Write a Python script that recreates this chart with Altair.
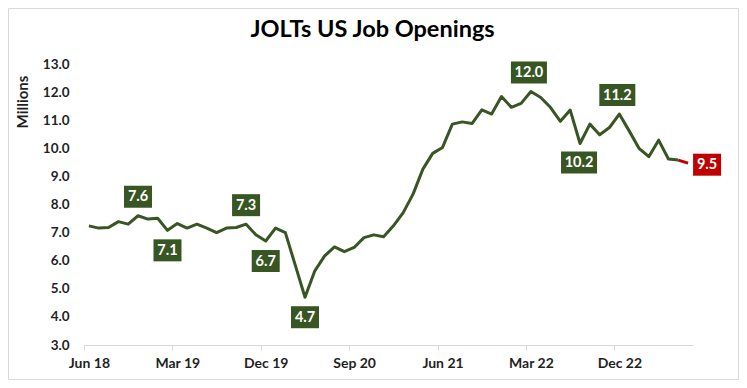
import altair as alt
import pandas as pd

# ---- data -------------------------------------------------------------
months = list(pd.date_range("2018-06-01", periods=62, freq="MS").strftime("%b %y"))
openings = [
    7.24, 7.16, 7.18, 7.39, 7.30, 7.60, 7.48, 7.51, 7.08, 7.32,
    7.16, 7.30, 7.16, 7.00, 7.16, 7.18, 7.30, 6.92, 6.70, 7.16,
    7.00, 5.85, 4.70, 5.64, 6.17, 6.49, 6.32, 6.47, 6.82, 6.92,
    6.85, 7.24, 7.71, 8.37, 9.26, 9.82, 10.03, 10.86, 10.94, 10.88,
    11.37, 11.22, 11.84, 11.46, 11.60, 12.02, 11.81, 11.45, 10.96, 11.36,
    10.17, 10.86, 10.48, 10.74, 11.22, 10.62, 10.00, 9.70, 10.29, 9.62,
    9.58, 9.47,
]
tick_months = [0, 9, 18, 27, 36, 45, 54]
tick_labels = ["Jun 18", "Mar 19", "Dec 19", "Sep 20", "Jun 21", "Mar 22", "Dec 22"]
y_ticks = [3, 4, 5, 6, 7, 8, 9, 10, 11, 12, 13]

# annotated months, grouped by where the label box sits
above_short = [5, 16]        # 7.6, 7.3
above_long = [45, 54]        # 12.0, 11.2
below_short = [8, 18, 22]    # 7.1, 6.7, 4.7
below_long = [50]            # 10.2
last_point = [61]            # 9.5 (red)

df = pd.DataFrame({"i": list(range(len(openings))), "month": months, "v": openings})

GREEN = "#375623"
RED = "#C00000"
TXT = "#1f1f1f"
FONT = "Lato"

W, H = 609, 281
PAD = {"left": 76, "top": 56, "right": 46, "bottom": 35}
step = W / len(openings)

label_expr = "[" + ",".join("'%s'" % s for s in tick_labels) + "][round(datum.value/9)]"

x_enc = alt.X(
    "i:Q",
    title=None,
    scale=alt.Scale(domain=[-0.5, len(openings) - 0.5], nice=False, zero=False),
    axis=alt.Axis(
        values=tick_months,
        labelExpr=label_expr,
        tickOffset=-step / 2,
        labelOffset=step / 2,
        labelFlush=False,
        labelOverlap=False,
        grid=False,
        domainColor="#d9d9d9",
        tickColor="#d9d9d9",
        tickSize=5,
        labelPadding=6,
        labelFont=FONT,
        labelFontWeight="bold",
        labelFontSize=14,
        labelColor=TXT,
    ),
)
y_enc = alt.Y(
    "v:Q",
    title=None,
    scale=alt.Scale(domain=[3, 13], nice=False, zero=False),
    axis=alt.Axis(
        values=y_ticks,
        format=".1f",
        grid=False,
        domain=False,
        ticks=False,
        labelPadding=15,
        labelFont=FONT,
        labelFontWeight="bold",
        labelFontSize=13.5,
        labelColor=TXT,
    ),
)

base = alt.Chart(df)

green_line = base.transform_filter(alt.datum.i <= 60).mark_line(
    color=GREEN, strokeWidth=3, strokeJoin="round"
).encode(x=x_enc, y=y_enc)
red_line = base.transform_filter(alt.datum.i >= 60).mark_line(
    color=RED, strokeWidth=3, strokeJoin="round"
).encode(x=x_enc, y=y_enc)


def label(ids, dx, dy, w, h, color):
    src = base.transform_filter(alt.FieldOneOfPredicate(field="i", oneOf=ids))
    box = src.mark_rect(
        color=color,
        xOffset=dx - w / 2, x2Offset=dx + w / 2,
        yOffset=dy - h / 2, y2Offset=dy + h / 2,
    ).encode(x=x_enc, x2="i:Q", y=y_enc, y2="v:Q")
    txt = src.mark_text(
        color="white", font=FONT, fontWeight="bold", fontSize=14.5,
        dx=dx, dy=dy + 0.5, align="center", baseline="middle",
    ).encode(x=x_enc, y=y_enc, text=alt.Text("v:Q", format=".1f"))
    return [box, txt]


labels = (
    label(above_short, 0, -19, 28, 22, GREEN)
    + label(above_long, -2, -19, 36, 22, GREEN)
    + label(below_short, 0, 20, 28, 22, GREEN)
    + label(below_long, -1, 19, 36, 22, GREEN)
    + label(last_point, 19, 1.5, 28, 22, RED)
)

one = pd.DataFrame({"t": ["JOLTs US Job Openings"]})
title = alt.Chart(one).mark_text(
    font=FONT, fontWeight="bold", fontSize=23.5, color="black",
    align="center", baseline="alphabetic",
).encode(x=alt.value(288.5), y=alt.value(-27.3), text="t:N")

ytitle = alt.Chart(pd.DataFrame({"t": ["Millions"]})).mark_text(
    font=FONT, fontWeight="bold", fontSize=15, color=TXT,
    align="center", baseline="middle", angle=270,
).encode(x=alt.value(-61), y=alt.value(38), text="t:N")

border = alt.Chart(one).mark_rect(
    fillOpacity=0, stroke="#d9d9d9", strokeWidth=1
).encode(
    x=alt.value(-PAD["left"] + 0.5),
    x2=alt.value(W + PAD["right"] - 0.5),
    y=alt.value(-PAD["top"] + 0.5),
    y2=alt.value(H + PAD["bottom"] - 0.5),
)

chart = alt.layer(
    border, green_line, red_line, *labels, title, ytitle
).properties(
    width=W, height=H, padding=PAD,
    autosize=alt.AutoSizeParams(type="none"),
    background="white",
).configure_view(stroke=None)

chart.save("out.html", embed_options={"renderer": "svg", "actions": False})
